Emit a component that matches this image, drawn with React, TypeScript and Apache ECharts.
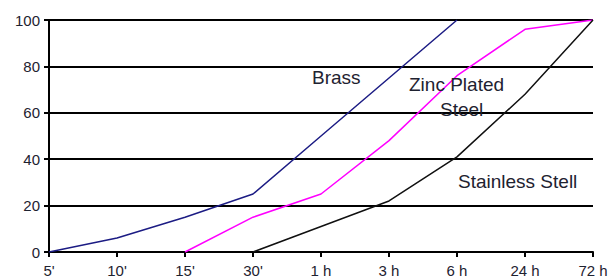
import React, { useEffect, useRef } from "react";
import * as echarts from "echarts";

const categories = ["5'", "10'", "15'", "30'", "1 h", "3 h", "6 h", "24 h", "72 h"];
const yTicks = [0, 20, 40, 60, 80, 100];
const brass = [0, 6, 15, 25, 50, 75, 100, null, null];
const zincPlatedSteel = [null, null, 0, 15, 25, 48, 76, 96, 100];
const stainlessStell = [null, null, null, 0, 11, 22, 41, 68, 100];

const seriesNames = ["Brass", "Zinc Plated Steel", "Stainless Stell"];
const seriesColors = ["#1c1c84", "#ff00ff", "#111111"];

export default function App() {
  const ref = useRef<HTMLDivElement>(null);
  useEffect(() => {
    if (!ref.current) return;
    const chart = echarts.init(ref.current, null, { renderer: "svg" });
    const font = "'Liberation Sans', Arial, sans-serif";
    const textColor = "#1e2230";
    chart.setOption({
      animation: false,
      backgroundColor: "#ffffff",
      grid: { left: 49, right: 20, top: 20, bottom: 28, containLabel: false },
      xAxis: {
        type: "category",
        data: categories,
        boundaryGap: false,
        axisLine: { lineStyle: { color: "#000", width: 2 } },
        axisTick: { show: true, length: 5, lineStyle: { color: "#000", width: 2 }, alignWithLabel: true },
        axisLabel: { color: textColor, fontSize: 15, fontFamily: font, margin: 11 },
        splitLine: { show: false },
      },
      yAxis: {
        type: "value",
        min: yTicks[0],
        max: yTicks[yTicks.length - 1],
        interval: 20,
        axisLine: { show: true, lineStyle: { color: "#000", width: 2 } },
        axisTick: { show: true, length: 5, lineStyle: { color: "#000", width: 2 } },
        axisLabel: { color: textColor, fontSize: 15, fontFamily: font, margin: 9 },
        splitLine: { show: true, lineStyle: { color: "#000", width: 2 } },
      },
      series: [brass, zincPlatedSteel, stainlessStell].map((d, i) => ({
        name: seriesNames[i],
        type: "line",
        data: d,
        symbol: "none",
        connectNulls: false,
        lineStyle: { color: seriesColors[i], width: 1.5 },
        z: 3,
      })),
      graphic: [
        { type: "text", left: 312, top: 68, z: 10, style: { text: "Brass", font: `19px ${font}`, fill: textColor } },
        { type: "text", left: 409, top: 75, z: 10, style: { text: "Zinc Plated", font: `19px ${font}`, fill: textColor } },
        { type: "text", left: 440, top: 100, z: 10, style: { text: "Steel", font: `19px ${font}`, fill: textColor } },
        { type: "text", left: 458, top: 172, z: 10, style: { text: "Stainless Stell", font: `19px ${font}`, fill: textColor } },
      ],
    });
    return () => chart.dispose();
  }, []);
  return (
    <div
      ref={ref}
      style={{ position: "absolute", left: 0, top: 0, width: 613, height: 280 }}
    />
  );
}
